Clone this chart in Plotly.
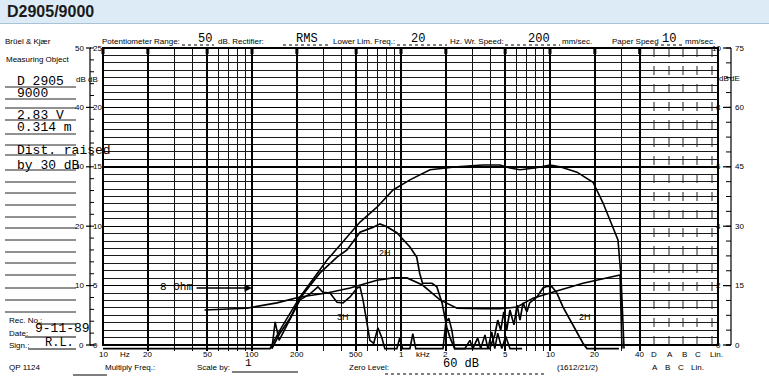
import numpy as np
import plotly.graph_objects as go

# ---------------- data (frequency in Hz, level in dB on the 50 dB scale) ----------------
resp_freq = [10, 132, 154, 210, 319, 434, 531, 690, 884, 1148, 1566, 2377, 3550, 4616, 5387,
             6290, 7930, 10000, 11670, 15180, 19440, 22700, 26490, 28590, 29980, 31400]
resp_db = [-0.6, -0.6, 2.5, 8.1, 14.3, 18.2, 20.7, 23.2, 26.1, 27.8, 29.5, 30.0, 30.3, 30.3, 29.8,
           29.5, 29.8, 30.3, 30.0, 29.1, 27.4, 23.9, 19.9, 17.7, 11.4, -0.6]

imp_freq = [48, 92, 147, 210, 319, 455, 690, 884, 1097, 1394, 1828, 2377, 3550, 4616, 6010,
            7690, 10000, 16650, 29510, 30410]
imp_db = [5.9, 6.2, 7.1, 8.1, 8.75, 9.6, 10.9, 11.3, 11.3, 10.1, 7.6, 6.2, 6.1, 6.1, 6.4,
          7.9, 8.75, 10.4, 11.8, -0.6]

h2_freq = [136, 154, 180, 210, 285, 372, 434, 531, 646, 722, 804, 938, 1148, 1275, 1334, 1394,
           1614, 1740, 1886, 2029, 2130, 2292, 3940, 4260, 4459, 4671, 4896, 5120, 5387, 5730,
           6010, 6290, 6590, 7000, 7300, 8180, 8980, 9560, 10320, 11130, 12230, 13630, 15180,
           16650, 17700, 29000]
h2_db = [-0.6, 2.0, 4.5, 7.9, 12.1, 14.8, 16.0, 19.0, 19.8, 20.4, 19.9, 18.9, 16.5, 14.8, 12.1, 10.4,
         10.4, 9.8, 7.1, 3.0, 1.3, -0.6, -0.6, 1.7, 4.2, 2.5, 5.6, 2.5, 5.9, 3.4,
         6.7, 4.2, 7.1, 5.6, 7.1, 8.1, 9.6, 9.9, 9.8, 8.75, 6.4, 4.2, 2.2,
         0.3, -0.6, -0.6]

h3_freq = [136, 143, 152, 180, 210, 245, 277, 299, 334, 372, 408, 455, 508, 531, 556, 591, 618,
           656, 700, 745, 779, 938, 980, 1026, 1148, 1200, 1256, 1914, 2001, 2093, 2194, 2292,
           2681, 2900, 3036, 3271, 3425, 3660, 3830, 4063, 4260, 4459, 4750, 5043, 5387, 6500]
h3_db = [-0.6, 3.9, 0.8, 4.5, 7.6, 8.6, 9.8, 8.9, 8.75, 7.2, 7.1, 8.1, 9.6, 9.8, 7.6, 3.7, 0.8,
         0.3, 2.9, 1.2, -0.6, -0.6, 1.2, -0.6, -0.6, 1.9, -0.6, -0.6, 3.9, 4.5, 2.5, -0.6,
         -0.6, 0.8, -0.6, 1.2, -0.6, 1.7, -0.6, 2.2, -0.6, 2.0, -0.6, 1.5, -0.6, -0.6]

imp_ref_db = 9.6          # "8 Ohm" reference arrow
imp_ref_from, imp_ref_to = 41.5, 100

curve_labels = ["2H", "3H", "2H"]
curve_label_freq = [779, 408, 17180]
curve_label_db = [15.5, 4.7, 4.7]

freq_ticks = [10, 20, 50, 100, 200, 500, 1000, 2000, 5000, 10000, 20000, 40000]
freq_tick_labels = ["10", "20", "50", "100", "200", "500", "1", "2", "5", "10", "20", "40"]
scale_db = [50, 40, 30, 20, 10, 0]
left_outer_labels = ["50", "40", "30", "20", "10", "0"]
left_inner_labels = ["25", "20", "15", "10", "5", "0"]
right_inner_labels = ["10", "8", "6", "4", "2", "0"]
right_outer_labels = ["75", "60", "45", "30", "15", "0"]
weighting_row1 = ["D", "A", "B", "C", "Lin."]
weighting_row2 = ["A", "B", "C", "Lin."]

# ---------------- geometry helpers (layout only) ----------------
W, H = 769, 392
L_PX, R_PX, T_PX, B_PX = 103, 718, 48, 351
DECADE_PX = 149.0
x_hi = 1 + (R_PX - L_PX) / DECADE_PX


def px(x):
    return (x - L_PX) / (R_PX - L_PX)


def py(y):
    return (B_PX - y) / (B_PX - T_PX)


def ydb(v):  # pixel of a dB value on the 50 dB scale
    return 345 - v * 5.94


SANS = "Liberation Sans, Arial, sans-serif"
MONO = "Liberation Mono, Courier New, monospace"

fig = go.Figure()
for fx, dy, w in [(resp_freq, resp_db, 1.6), (imp_freq, imp_db, 1.6),
                  (h2_freq, h2_db, 1.7), (h3_freq, h3_db, 1.6)]:
    fig.add_trace(go.Scatter(x=fx, y=dy, mode="lines", line=dict(color="black", width=w),
                             hoverinfo="skip", showlegend=False))

# grid values
all_f = [m * 10 ** d for d in range(1, 5) for m in range(1, 10) if m * 10 ** d <= 40000]
major_f = [f for f in all_f if str(f)[0] in "125"] + [40000]
minor_f = [f for f in all_f if f not in major_f]
minor_db = [i * 1.25 for i in range(0, 41)]
major_db = [0, 10, 20, 30, 40, 50]

shapes = []
ann = []


def hline(x0, x1, y, w=1, color="black", dash="solid"):
    shapes.append(dict(type="line", xref="paper", yref="paper", x0=px(x0), x1=px(x1),
                       y0=py(y), y1=py(y), line=dict(color=color, width=w, dash=dash)))


def vline(x, y0, y1, w=1, color="black", dash="solid"):
    shapes.append(dict(type="line", xref="paper", yref="paper", x0=px(x), x1=px(x),
                       y0=py(y0), y1=py(y1), line=dict(color=color, width=w, dash=dash)))


def txt(s, x, y, size=8, anchor="center", family=SANS, color="black"):
    ann.append(dict(text=s, x=px(x), y=py(y), xref="paper", yref="paper", xanchor=anchor,
                    yanchor="middle", showarrow=False, font=dict(size=size, family=family, color=color)))


# header band
shapes.append(dict(type="rect", xref="paper", yref="paper", x0=px(0), x1=px(W), y0=py(0), y1=py(23),
                   fillcolor="#dcebf6", line=dict(width=0), layer="below"))
hline(0, W, 23.5, w=1, color="#a9c2d6")
ann.append(dict(text="<b>D2905/9000</b>", x=px(5), y=py(12), xref="paper", yref="paper",
                xanchor="left", yanchor="middle", showarrow=False,
                font=dict(size=16, family=SANS, color="#1a1a1a")))

# chart frame
shapes.append(dict(type="rect", xref="paper", yref="paper", x0=px(L_PX), x1=px(R_PX), y0=py(345),
                   y1=py(48), line=dict(color="black", width=2)))
# weighting columns
for xx in [654, 669, 683, 697, 712]:
    vline(xx, 48, 345, w=1, color="#222", dash="dash")

# top tick blocks
for f in major_f:
    xpix = L_PX + (np.log10(f) - 1) * DECADE_PX
    shapes.append(dict(type="rect", xref="paper", yref="paper", x0=px(xpix - 1.5), x1=px(xpix + 1.5),
                       y0=py(54), y1=py(48), fillcolor="black", line=dict(width=0)))

# left scale
vline(90, 48, 345, w=1.2)
hline(90, 96, 345, w=1.2)
for v in np.arange(0, 50.1, 2):
    hline(90, 94, ydb(v), w=1)
for v, a, b in zip(scale_db, left_outer_labels, left_inner_labels):
    hline(86, 91, ydb(v), w=1.2)
    txt(a, 86, ydb(v), anchor="right")
    txt(b, 91, ydb(v), anchor="left")
txt("dB", 81, 80)
txt("dB", 93, 80)

# right scale
vline(731, 48, 345, w=1.2)
hline(726, 731, 345, w=1.2)
for v in np.arange(0, 50.1, 2.5):
    hline(726, 731, ydb(v), w=1)
for v, a, b in zip(scale_db, right_inner_labels, right_outer_labels):
    hline(723, 731, ydb(v), w=1.2)
    txt(a, 723, ydb(v), anchor="right")
    txt(b, 733, ydb(v), anchor="left")
txt("dB", 724, 78)
txt("dE", 735, 78)

# top heading row
txt("Brüel & Kjær", 28, 42)
txt("Potentiometer Range:", 100, 42, anchor="left")
hline(182, 214, 45, dash="dot")
txt("50", 205, 39, size=12, family=MONO)
txt("dB. Rectifier:", 216, 42, anchor="left")
hline(283, 328, 45, dash="dot")
txt("RMS", 307, 39, size=12, family=MONO)
txt("Lower Lim. Freq.:", 331, 42, anchor="left")
hline(397, 447, 45, dash="dot")
txt("20", 418, 39, size=12, family=MONO)
txt("Hz. Wr. Speed:", 448, 42, anchor="left")
hline(505, 560, 45, dash="dot")
txt("200", 539, 39, size=12, family=MONO)
txt("mm/sec.", 560, 42, anchor="left")
txt("Paper Speed", 610, 42, anchor="left")
hline(655, 682, 45, dash="dot")
txt("10", 669, 39, size=12, family=MONO)
txt("mm/sec.", 683, 42, anchor="left")

# left record block
txt("Measuring Object", 37, 59)
for yy in [87, 99, 108, 120, 134, 145, 155, 170, 182, 193, 205, 217, 228, 240, 252, 263, 275, 288, 300, 312]:
    hline(5, 76, yy, w=1, color="#222")
for s, yy in [("D 2905", 81), ("9000", 93), ("2.83 V", 115), ("0.314 m", 128),
              ("Dist. raised", 150), ("by 30 dB", 165)]:
    txt(s, 15, yy, size=13, family=MONO, anchor="left")
txt("Rec. No.:", 7, 320, anchor="left")
hline(37, 76, 324)
txt("Date:", 7, 333, anchor="left")
hline(25, 76, 337)
txt("9-11-89", 33, 328, size=13, family=MONO, anchor="left")
txt("Sign.:", 7, 345, anchor="left")
hline(28, 76, 349)
txt("R.L.", 43, 343, size=12, family=MONO, anchor="left")
txt("QP 1124", 7, 367, anchor="left")
hline(73, 107, 375)

# bottom frequency labels (placed through the x axis)
for f, s in zip(freq_ticks, freq_tick_labels):
    ann.append(dict(text=s, x=np.log10(f), y=py(354), xref="x", yref="paper", showarrow=False,
                    yanchor="middle", font=dict(size=8, family=SANS, color="black")))
ann.append(dict(text="Hz", x=np.log10(14), y=py(354), xref="x", yref="paper", showarrow=False,
                yanchor="middle", font=dict(size=8, family=SANS, color="black")))
ann.append(dict(text="kHz", x=np.log10(1400), y=py(354), xref="x", yref="paper", showarrow=False,
                yanchor="middle", font=dict(size=8, family=SANS, color="black")))
for s, xx in zip(weighting_row1, [654, 670, 684, 698, 716]):
    txt(s, xx, 354)
for s, xx in zip(weighting_row2, [655, 667, 681, 697]):
    txt(s, xx, 367)

txt("Multiply Freq.:", 103, 368, anchor="left")
txt("Scale by:", 195, 368, anchor="left")
hline(232, 298, 372)
txt("1", 248, 363, size=11, family=MONO)
txt("Zero Level:", 347, 368, anchor="left")
hline(385, 545, 374, dash="dot")
txt("60 dB", 461, 364, size=12, family=MONO)
txt("(1612/21/2)", 577, 367)

# curve labels and 8 Ohm reference
for s, f, d in zip(curve_labels, curve_label_freq, curve_label_db):
    ann.append(dict(text=s, x=np.log10(f), y=d, xref="x", yref="y", showarrow=False,
                    font=dict(size=9, family=SANS, color="black")))
ann.append(dict(text="8 Ohm", x=np.log10(imp_ref_from), y=imp_ref_db + 0.2, xref="x", yref="y",
                xanchor="right", showarrow=False, font=dict(size=11, family=MONO, color="black")))
ann.append(dict(text="", x=np.log10(imp_ref_to), y=imp_ref_db, ax=np.log10(imp_ref_from), ay=imp_ref_db,
                xref="x", yref="y", axref="x", ayref="y", showarrow=True, arrowhead=2,
                arrowsize=1, arrowwidth=1.5, arrowcolor="black"))

fig.update_layout(
    width=W, height=H, autosize=False,
    margin=dict(l=L_PX, r=W - R_PX, t=T_PX, b=H - B_PX, pad=0),
    paper_bgcolor="white", plot_bgcolor="white",
    showlegend=False,
    shapes=shapes, annotations=ann,
    xaxis=dict(type="log", range=[1, x_hi], tickmode="array", tickvals=major_f,
               ticktext=[""] * len(major_f), showticklabels=False, ticks="",
               showgrid=True, gridcolor="black", gridwidth=1.6, zeroline=False, showline=False,
               minor=dict(tickmode="array", tickvals=minor_f, showgrid=True, gridcolor="#111",
                          gridwidth=1, ticks="")),
    yaxis=dict(range=[-1, 50], tickmode="array", tickvals=major_db, showticklabels=False, ticks="",
               showgrid=True, gridcolor="black", gridwidth=1.4, zeroline=False, showline=False,
               minor=dict(tickmode="array", tickvals=minor_db, showgrid=True, gridcolor="#1a1a1a",
                          gridwidth=1, ticks="")),
)

fig.write_html("out.html", config={"displayModeBar": False, "staticPlot": True},
               post_script="document.body.style.margin='0';document.body.style.padding='0';"
                           "document.body.style.overflow='hidden';")
